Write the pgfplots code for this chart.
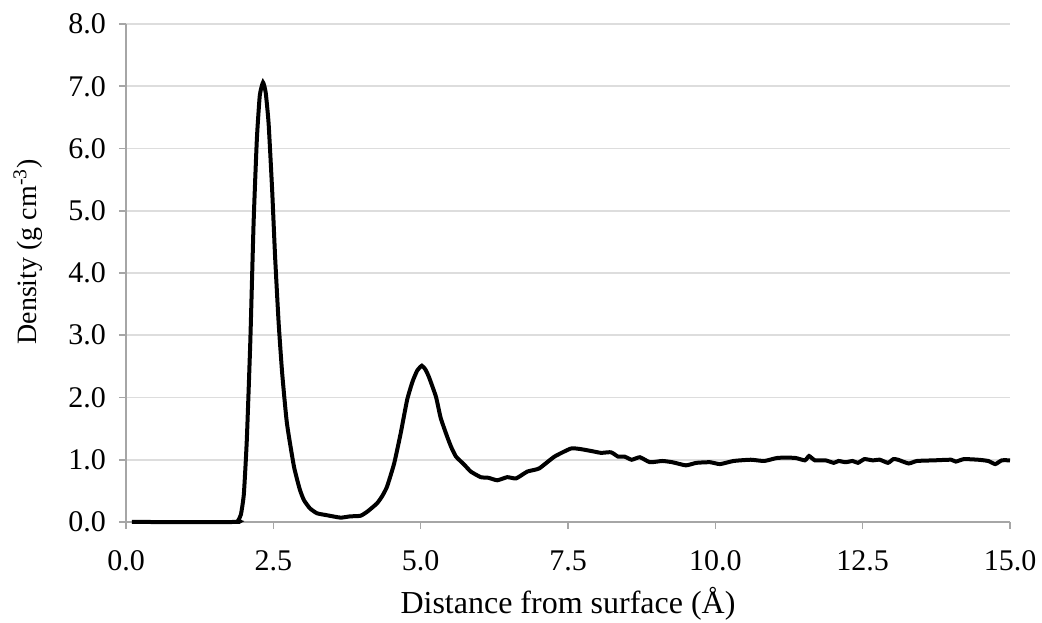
\documentclass[border=0pt]{standalone}
\usepackage{fontspec}
\setmainfont{Liberation Serif}
\usepackage{pgfplots}
\pgfplotsset{compat=1.18}
\definecolor{axgray}{HTML}{A6A6A6}
\definecolor{gridgray}{HTML}{DDDDDD}
\begin{document}
\begin{tikzpicture}
\begin{axis}[
  name=ax,
  scale only axis,
  width=442bp, height=249bp,
  xmin=0, xmax=15, ymin=0, ymax=8,
  xtick={0,2.5,...,15}, ytick={0,1,...,8},
  axis lines*=left,
  axis line style={axgray, line width=0.8bp},
  tick align=outside,
  major tick length=3.5bp,
  tick style={axgray, line width=0.8bp},
  ymajorgrids, grid style={gridgray, line width=0.8bp},
  /pgf/number format/assume math mode=true,
  /pgf/number format/.cd, fixed, fixed zerofill, precision=1,
  /pgfplots/.cd,
  ticklabel style={font=\fontsize{15bp}{18bp}\selectfont},
  xticklabel style={yshift=-7.5bp},
  yticklabel style={xshift=-3bp},
  xlabel={Distance from surface (Å)},
  ylabel={Density (g cm\textsuperscript{-3})},
  xlabel style={font=\fontsize{16bp}{19bp}\selectfont, at={(axis description cs:0.5,0)}, anchor=center, yshift=-41bp},
  ylabel style={font=\fontsize{14bp}{17bp}\selectfont, at={(axis description cs:0,0.5)}, anchor=center, xshift=10.5bp, yshift=49bp},
  clip=false,
]
\addplot[black, line width=2bp, smooth, tension=0.3] coordinates {
(0.1,0) (1.85,0) (1.9,0.02) (1.95,0.12) (2.0,0.45) (2.05,1.32) (2.11,2.92) (2.165,4.8) (2.22,6.14) (2.27,6.85) (2.325,7.06) (2.37,6.9) (2.42,6.4) (2.48,5.33) (2.53,4.26) (2.59,3.2) (2.65,2.39) (2.73,1.59) (2.85,0.89) (2.95,0.52) (3.02,0.35) (3.12,0.22) (3.24,0.14) (3.4,0.11) (3.64,0.07) (3.8,0.09) (3.98,0.1) (4.1,0.17) (4.26,0.30) (4.35,0.42) (4.43,0.57) (4.55,0.94) (4.66,1.42) (4.77,1.96) (4.86,2.25) (4.94,2.43) (5.02,2.51) (5.08,2.45) (5.14,2.33) (5.26,2.01) (5.34,1.67) (5.45,1.37) (5.52,1.2) (5.60,1.05) (5.74,0.92) (5.85,0.81) (6.02,0.72) (6.15,0.71) (6.30,0.67) (6.47,0.72) (6.62,0.70) (6.81,0.81) (7.01,0.86) (7.27,1.05) (7.55,1.18) (7.72,1.17) (7.95,1.13) (8.06,1.11) (8.23,1.12) (8.35,1.05) (8.46,1.05) (8.58,1.00) (8.72,1.04) (8.89,0.96) (9.10,0.98) (9.27,0.96) (9.50,0.91) (9.68,0.95) (9.91,0.96) (10.08,0.93) (10.31,0.98) (10.60,1.00) (10.83,0.98) (11.06,1.03) (11.35,1.03) (11.52,0.99) (11.59,1.06) (11.69,0.99) (11.87,0.99) (12.01,0.95) (12.09,0.98) (12.21,0.96) (12.33,0.98) (12.42,0.95) (12.53,1.01) (12.67,0.99) (12.79,1.00) (12.93,0.95) (13.02,1.01) (13.10,1.00) (13.28,0.94) (13.42,0.98) (13.71,0.99) (14.0,1.00) (14.08,0.97) (14.22,1.01) (14.46,1.00) (14.63,0.98) (14.75,0.93) (14.86,0.99) (15.0,0.99)
};
\end{axis}
\pgfresetboundingbox
\path[use as bounding box] ([xshift=-63bp,yshift=-50.5bp]ax.south west) rectangle ([xshift=16bp,yshift=12bp]ax.north east);
\end{tikzpicture}
\end{document}
